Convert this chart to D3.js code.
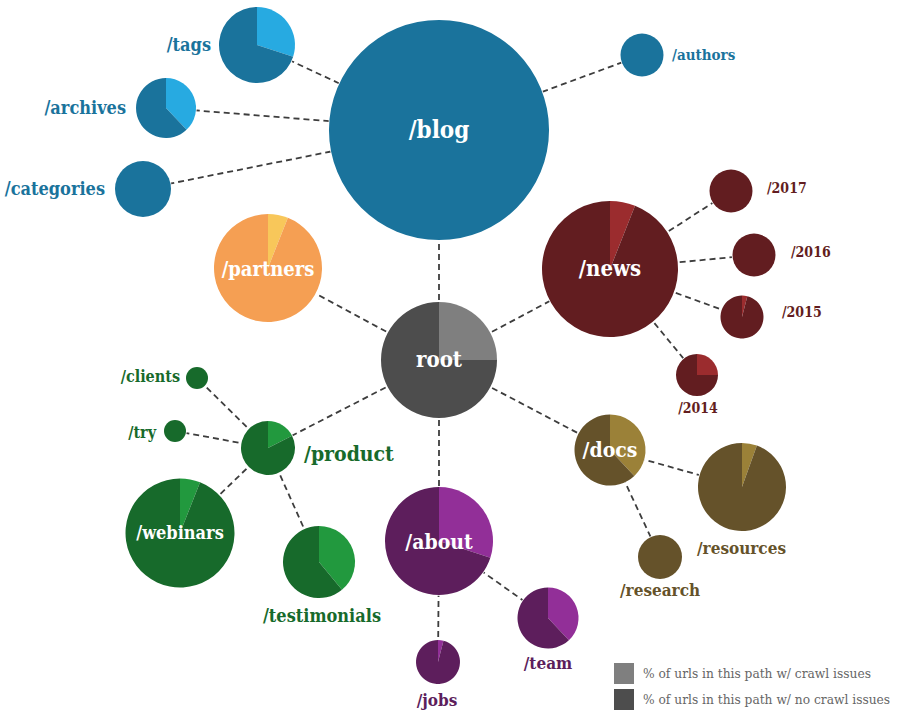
<!DOCTYPE html>
<html><head><meta charset="utf-8">
<script src="https://cdn.jsdelivr.net/npm/d3@7"></script>
<style>
html,body{margin:0;padding:0;background:#fff;}
svg{display:block;}
</style></head>
<body><svg id="chart" width="900" height="720"></svg>
<script>
// ---- data ----
const paths      = ["root","/blog","/tags","/archives","/categories","/authors","/partners","/news","/2017","/2016","/2015","/2014","/docs","/resources","/research","/about","/team","/jobs","/product","/clients","/try","/webinars","/testimonials"];
const parents    = [null,"root","/blog","/blog","/blog","/blog","root","root","/news","/news","/news","/news","root","/docs","/docs","root","/about","/about","root","/product","/product","/product","/product"];
const urlCounts  = [3364,12100,1444,900,784,462,2916,4624,462,462,462,441,1260,1936,484,2916,930,484,729,121,121,2970,1296];
const issueShare = [0.25,0,0.30,0.38,0,0,0.06,0.06,0,0,0.04,0.25,0.38,0.055,0,0.30,0.38,0.04,0.175,0,0,0.06,0.39];
const groups     = ["root","blog","blog","blog","blog","blog","partners","news","news","news","news","news","docs","docs","docs","about","about","about","product","product","product","product","product"];
const legendLabels = ["% of urls in this path w/ crawl issues","% of urls in this path w/ no crawl issues"];

// ---- layout / style ----
const layout = {
  "root":[439,360], "/blog":[439,130], "/tags":[257,45], "/archives":[166,108], "/categories":[143,189],
  "/authors":[642,55], "/partners":[268,268], "/news":[610,269], "/2017":[731,191], "/2016":[754,255],
  "/2015":[742,317], "/2014":[697,375], "/docs":[610,450], "/resources":[742,487], "/research":[660,557],
  "/about":[439,541], "/team":[548,618], "/jobs":[438,662], "/product":[268,448], "/clients":[197,378],
  "/try":[175,431], "/webinars":[180,533], "/testimonials":[319,562]
};
// label: [mode, x, y, fontSize]
const labelPos = {
  "root":["in",439,361,22], "/blog":["in",439,131,24], "/tags":["end",211,46,18], "/archives":["end",126,109,18],
  "/categories":["end",105,190,18], "/authors":["start",672,56,15], "/partners":["in",268,270,20],
  "/news":["in",610,270,22], "/2017":["start",767,189,14], "/2016":["start",791,253,14], "/2015":["start",782,313,14],
  "/2014":["middle",698,409,14], "/docs":["in",610,451,21], "/resources":["start",697,549,17],
  "/research":["start",620,591,17], "/about":["in",439,543,21], "/team":["middle",548,664,17],
  "/jobs":["middle",437,701,17], "/product":["start",304,455,21], "/clients":["end",180,377,16],
  "/try":["end",156,433,16], "/webinars":["in",180,534,18], "/testimonials":["middle",322,617,18]
};
const palette = {
  root:    {dark:"#4d4d4d", light:"#7f7f7f", text:"#4d4d4d"},
  blog:    {dark:"#1a739c", light:"#27aae1", text:"#1a739c"},
  partners:{dark:"#f59f53", light:"#f8c75a", text:"#f59f53"},
  news:    {dark:"#621d20", light:"#9b2c2e", text:"#621d20"},
  docs:    {dark:"#65522a", light:"#9b8138", text:"#65522a"},
  about:   {dark:"#5d1e5c", light:"#922f98", text:"#5d1e5c"},
  product: {dark:"#176a2b", light:"#22993e", text:"#176a2b"}
};

const nodes = paths.map((p,i)=>({id:p, parent:parents[i], count:urlCounts[i], issue:issueShare[i], group:groups[i], x:layout[p][0], y:layout[p][1]}));
const byId = new Map(nodes.map(n=>[n.id,n]));

const svg = d3.select("#chart");
const rScale = d3.scaleSqrt().domain([0,12100]).range([0,110]);
const font = "'DejaVu Serif Condensed', 'DejaVu Serif', serif";

// links
svg.append("g").selectAll("line")
  .data(nodes.filter(n=>n.parent))
  .join("line")
  .attr("x1",d=>byId.get(d.parent).x).attr("y1",d=>byId.get(d.parent).y)
  .attr("x2",d=>d.x).attr("y2",d=>d.y)
  .attr("stroke","#3d3d3d").attr("stroke-width",1.8).attr("stroke-dasharray","6,4");

// pies
const pie = d3.pie().sort(null).value(d=>d.v);
const nodeG = svg.append("g").selectAll("g").data(nodes).join("g")
  .attr("transform",d=>`translate(${d.x},${d.y})`);
nodeG.each(function(d){
  const g = d3.select(this);
  const r = rScale(d.count);
  const c = palette[d.group];
  g.append("circle").attr("r",r+0.8).attr("fill","#fff");
  const arcs = pie([{k:"issue",v:d.issue},{k:"ok",v:1-d.issue}]);
  const arc = d3.arc().innerRadius(0).outerRadius(r);
  g.selectAll("path").data(arcs.filter(a=>a.data.v>0)).join("path")
    .attr("d",arc).attr("fill",a=>a.data.k==="issue"?c.light:c.dark);
});

// labels
svg.append("g").selectAll("text").data(nodes).join("text")
  .attr("x",d=>labelPos[d.id][1]).attr("y",d=>labelPos[d.id][2])
  .attr("text-anchor",d=>labelPos[d.id][0]==="in"?"middle":labelPos[d.id][0])
  .attr("dominant-baseline","middle")
  .attr("font-family",font).attr("font-weight","bold")
  .attr("font-size",d=>labelPos[d.id][3])
  .attr("fill",d=>labelPos[d.id][0]==="in"?"#fff":palette[d.group].text)
  .text(d=>d.id);

// legend
const leg = svg.append("g").attr("transform","translate(614,663)");
leg.selectAll("rect").data(legendLabels).join("rect")
  .attr("x",0).attr("y",(d,i)=>i*26).attr("width",20).attr("height",21)
  .attr("fill",(d,i)=>i===0?"#7f7f7f":"#4d4d4d");
leg.selectAll("text").data(legendLabels).join("text")
  .attr("x",29).attr("y",(d,i)=>i*26+11).attr("dominant-baseline","middle")
  .attr("font-family",font).attr("font-size",13.6).attr("fill","#666")
  .text(d=>d);
</script></body></html>
